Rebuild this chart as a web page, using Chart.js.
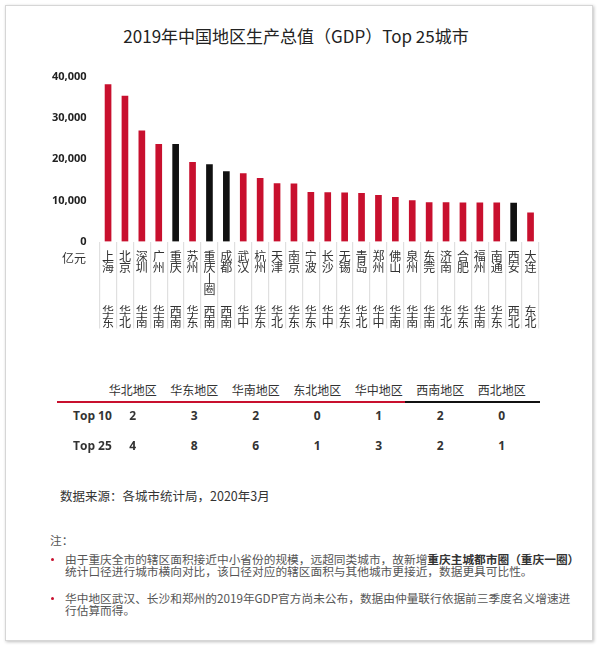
<!DOCTYPE html>
<html><head><meta charset="utf-8">
<script src="https://cdn.jsdelivr.net/npm/chart.js@4/dist/chart.umd.min.js"></script>
<style>
html,body{margin:0;padding:0;background:#fff;width:600px;height:651px;overflow:hidden;font-family:"Noto Sans CJK SC","Noto Sans",sans-serif;color:#333;}
#frame{position:absolute;left:5px;top:5px;width:586px;height:634px;border:1px solid #d6d6d6;box-shadow:1px 1px 3px rgba(0,0,0,0.25);}
#cw{position:absolute;left:0;top:0;width:600px;height:345px;}
.abs{position:absolute;white-space:nowrap;}
#title{left:296px;top:24px;font-size:17px;color:#222;transform:translateX(-50%);line-height:24px;}
#unit{left:62px;top:249px;font-size:12px;}
.th{position:absolute;top:381px;font-size:12px;transform:translateX(-50%);}
.td{position:absolute;font-size:12px;font-weight:bold;font-family:"Open Sans","Noto Sans",sans-serif;transform:translateX(-50%);}
.rl{position:absolute;left:73px;font-size:12px;font-weight:bold;font-family:"Open Sans","Noto Sans",sans-serif;}
#src{left:60px;top:486px;font-size:12.5px;}
.note{font-size:11.7px;color:#555;line-height:11.5px;}
.dot{position:absolute;width:3px;height:3px;border-radius:50%;background:#c8102e;}
</style></head>
<body>
<div id="frame"></div>
<div class="abs" id="title">2019年中国地区生产总值（GDP）Top 25城市</div>
<div id="cw"><canvas id="c"></canvas></div>
<div class="abs" id="unit">亿元</div>
<div id="table"></div>
<div class="abs" id="src">数据来源：各城市统计局，2020年3月</div>
<div class="abs note" style="left:50px;top:534px;">注：</div>
<div class="dot" style="left:51px;top:558px;"></div>
<div class="abs note" style="left:65px;top:553px;">由于重庆全市的辖区面积接近中小省份的规模，远超同类城市，故新增<b style="color:#333">重庆主城都市圈（重庆一圈）</b><br>统计口径进行城市横向对比，该口径对应的辖区面积与其他城市更接近，数据更具可比性。</div>
<div class="dot" style="left:51px;top:597px;"></div>
<div class="abs note" style="left:65px;top:592px;">华中地区武汉、长沙和郑州的2019年GDP官方尚未公布，数据由仲量联行依据前三季度名义增速进<br>行估算而得。</div>
<script>
const cities = ["上海","北京","深圳","广州","重庆","苏州","重庆丨圈","成都","武汉","杭州","天津","南京","宁波","长沙","无锡","青岛","郑州","佛山","泉州","东莞","济南","合肥","福州","南通","西安","大连"];
const cityRegions = ["华东","华北","华南","华南","西南","华东","西南","西南","华中","华东","华北","华东","华东","华中","华东","华北","华中","华南","华南","华南","华北","华东","华南","华东","西北","东北"];
const gdp = [38155,35371,26927,23628,23605,19236,18700,17013,16500,15373,14104,14030,11985,11900,11852,11741,11200,10751,9947,9482,9443,9409,9392,9383,9321,7001];
const yTicks = [0,10000,20000,30000,40000];
const tableRegions = ["华北地区","华东地区","华南地区","东北地区","华中地区","西南地区","西北地区"];
const top10Counts = [2,3,2,0,1,2,0];
const top25Counts = [4,8,6,1,3,2,1];

const RED = "#c8102e", BLACK = "#111";
const westRegions = ["西南","西北"];
const barColors = cityRegions.map(r => westRegions.includes(r) ? BLACK : RED);

(function(){
  const t = document.getElementById('table');
  const x0 = 132.7, dx = 61.5;
  let h = '';
  tableRegions.forEach((r,i)=>{ h += `<div class="th" style="left:${x0+i*dx}px">${r}</div>`; });
  h += `<div style="position:absolute;left:57px;top:401px;width:348px;height:2px;background:${RED}"></div>`;
  h += `<div style="position:absolute;left:405px;top:401px;width:135px;height:2px;background:${BLACK}"></div>`;
  h += `<div class="rl" style="top:407px">Top 10</div><div class="rl" style="top:437px">Top 25</div>`;
  top10Counts.forEach((v,i)=>{ h += `<div class="td" style="left:${x0+i*dx}px;top:407px">${v}</div>`; });
  top25Counts.forEach((v,i)=>{ h += `<div class="td" style="left:${x0+i*dx}px;top:437px">${v}</div>`; });
  t.innerHTML = h;
})();

const labels = cities.map((c,i)=>{
  const chars = Array.from(c);
  while (chars.length < 4) chars.push('');
  return chars.concat([''], Array.from(cityRegions[i]));
});

new Chart(document.getElementById('c'), {
  type: 'bar',
  data: { labels: labels, datasets: [{ data: gdp, backgroundColor: barColors, barThickness: 6 }] },
  options: {
    responsive: true, maintainAspectRatio: false, animation: false,
    layout: { padding: { top: 77, left: 0, right: 61, bottom: 0 } },
    plugins: { legend: { display: false }, tooltip: { enabled: false } },
    scales: {
      y: {
        min: 0, max: 40000,
        afterFit: s => { s.width = 99.6; },
        afterBuildTicks: s => { s.ticks = yTicks.map(v => ({ value: v })); },
        grid: { display: false }, border: { display: false },
        ticks: { padding: 5, color: "#222", font: { size: 11, family: "'Open Sans'", weight: 'bold' },
          callback: v => v.toLocaleString('en-US') }
      },
      x: {
        afterFit: s => { s.height = 103.5; },
        grid: { display: true, drawOnChartArea: false, drawTicks: true, tickLength: 87, color: "#e0e0e0", lineWidth: 1.2, offset: true },
        border: { display: false },
        ticks: { autoSkip: false, maxRotation: 0, minRotation: 0, padding: -78, color: "#333",
          font: { size: 12, family: "'Noto Sans CJK SC'", lineHeight: 0.92 } }
      }
    }
  }
});
</script>
</body></html>
